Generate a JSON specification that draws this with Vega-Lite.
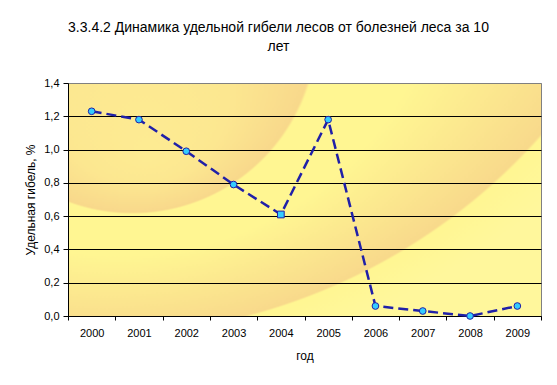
{
  "$schema": "https://vega.github.io/schema/vega-lite/v6.json",
  "width": 473,
  "height": 233,
  "autosize": {"type": "none"},
  "padding": {"left": 68, "top": 83, "right": 16, "bottom": 69},
  "background": "white",
  "title": {
    "text": ["3.3.4.2 Динамика удельной гибели лесов от болезней леса за 10", "лет"],
    "font": "Liberation Sans",
    "fontSize": 14,
    "fontWeight": "normal",
    "lineHeight": 19,
    "offset": 23,
    "dx": -26,
    "color": "black"
  },
  "data": {
    "values": [
      {"year": "2000", "value": 1.23},
      {"year": "2001", "value": 1.18},
      {"year": "2002", "value": 0.99},
      {"year": "2003", "value": 0.79},
      {"year": "2004", "value": 0.61},
      {"year": "2005", "value": 1.18},
      {"year": "2006", "value": 0.06},
      {"year": "2007", "value": 0.03},
      {"year": "2008", "value": 0.0},
      {"year": "2009", "value": 0.06}
    ]
  },
  "encoding": {
    "x": {
      "field": "year",
      "type": "ordinal",
      "scale": {"paddingInner": 0, "paddingOuter": 0},
      "axis": {
        "title": "год",
        "labelAngle": 0,
        "tickBand": "extent",
        "tickSize": 4,
        "labelPadding": 7,
        "titlePadding": 12,
        "grid": false
      }
    },
    "y": {
      "field": "value",
      "type": "quantitative",
      "scale": {"domain": [0, 1.4], "nice": false},
      "axis": {
        "title": "Удельная гибель, %",
        "values": [0, 0.2, 0.4, 0.6, 0.8, 1.0, 1.2, 1.4],
        "labelExpr": "replace(format(datum.value, '.1f'), '.', ',')",
        "tickSize": 5,
        "labelPadding": 4,
        "titlePadding": 6,
        "grid": true,
        "gridColor": {"condition": {"test": "datum.value >= 1.39", "value": "#808080"}, "value": "black"},
        "gridOpacity": 1,
        "gridWidth": 1
      }
    }
  },
  "layer": [
    {
      "mark": {"type": "line", "strokeDash": [10, 5], "strokeWidth": 2.5, "color": "#2020A8"}
    },
    {
      "mark": {"type": "point", "filled": true, "size": 45, "fill": "#33CCFF", "stroke": "#2020A8", "strokeWidth": 1, "opacity": 1},
      "encoding": {
        "shape": {"condition": {"test": "datum.year === '2004'", "value": "square"}, "value": "circle"}
      }
    }
  ],
  "config": {
    "view": {
      "fill": {
        "gradient": "radial",
        "x1": 0.1691, "y1": 0.412, "r1": 0,
        "x2": 0.0364, "y2": -0.650, "r2": 1.512,
        "stops": [
          {"offset": 0, "color": "#FDEB92"},
          {"offset": 0.12, "color": "#FCE790"},
          {"offset": 0.2546, "color": "#F8D88B"},
          {"offset": 0.2603, "color": "#FFF692"},
          {"offset": 0.4553, "color": "#FFF692"},
          {"offset": 0.828, "color": "#F8D98B"},
          {"offset": 0.835, "color": "#FFF692"},
          {"offset": 1, "color": "#FFF79C"}
        ]
      },
      "stroke": "#808080",
      "strokeWidth": 1
    },
    "axis": {
      "labelFont": "Liberation Sans",
      "titleFont": "Liberation Sans",
      "labelFontSize": 11,
      "titleFontSize": 12,
      "titleFontWeight": "normal",
      "labelColor": "black",
      "titleColor": "black",
      "domainColor": "black",
      "tickColor": "black",
      "domainWidth": 1,
      "tickWidth": 1
    }
  }
}
